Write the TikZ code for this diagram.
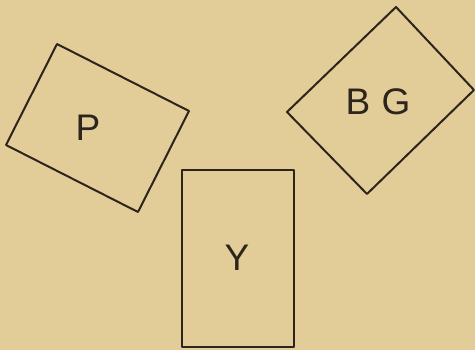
\documentclass[tikz,border=0pt]{standalone}
\usepackage{fontspec}
\setmainfont{Liberation Sans}
\definecolor{paper}{RGB}{226,205,152}
\definecolor{ink}{RGB}{45,36,28}
\begin{document}
\begin{tikzpicture}[x=1pt,y=-1pt,
  outline/.style={draw=ink,line width=2pt,line join=round},
  lbl/.style={text=ink,font=\fontsize{37}{37}\selectfont,inner sep=0pt}]
\fill[paper] (0,0) rectangle (475,350);
\useasboundingbox (0,0) rectangle (475,350);
% P box
\coordinate (p1) at (57,44);
\coordinate (p2) at (189,111);
\coordinate (p3) at (138,212);
\coordinate (p4) at (6,145);
\draw[outline] (p1) -- (p2) -- (p3) -- (p4) -- cycle;
\node[lbl] (P) at (88,128) {P};
% BG diamond
\coordinate (b1) at (396,7);
\coordinate (b2) at (474,90);
\coordinate (b3) at (367,194);
\coordinate (b4) at (287,112);
\draw[outline] (b1) -- (b2) -- (b3) -- (b4) -- cycle;
\node[lbl] (BG) at (378,102) {B\kern0.3em G};
% Y box
\coordinate (y1) at (182,170);
\coordinate (y2) at (294,170);
\coordinate (y3) at (294,347);
\coordinate (y4) at (182,347);
\draw[outline] (y1) -- (y2) -- (y3) -- (y4) -- cycle;
\node[lbl] (Y) at (237,258) {Y};
\end{tikzpicture}
\end{document}
